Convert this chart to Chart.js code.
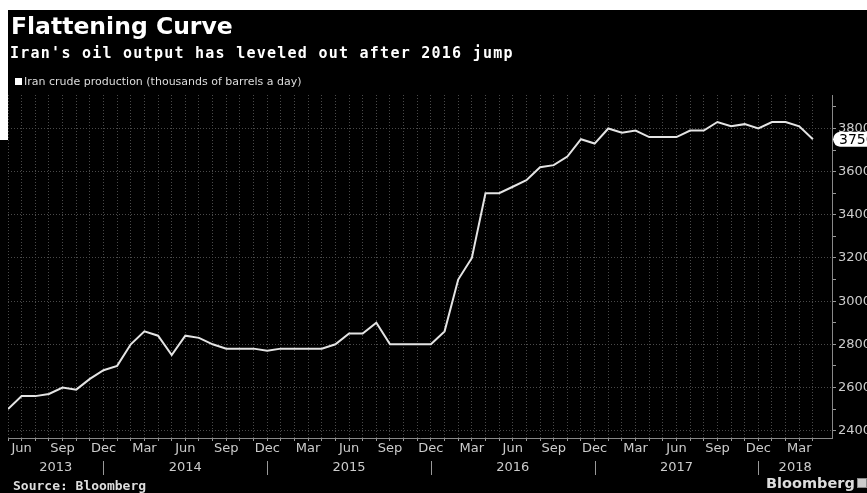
<!DOCTYPE html>
<html>
<head>
<meta charset="utf-8">
<script src="https://cdn.jsdelivr.net/npm/chart.js@4"></script>
<style>
    body { margin: 0; background: #000; width: 867px; height: 493px; overflow: hidden; position: relative; }
    .txt { position: absolute; color: #fff; white-space: nowrap; }
    #title { left: 11px; top: 12px; font: bold 23.5px "DejaVu Sans"; }
    #subtitle { left: 10px; top: 44px; font: bold 15px "DejaVu Sans Mono"; letter-spacing: 1.25px; }
    #legend { left: 15px; top: 75px; font: 11px "DejaVu Sans"; color: #ddd; }
    #legend span { display: inline-block; width: 7px; height: 7px; background: #fff; margin-right: 2px; }
    #source { left: 13px; top: 478px; font: bold 13px "DejaVu Sans Mono"; color: #ddd; }
    #logo { left: 766px; top: 475px; font: bold 14.5px "DejaVu Sans"; color: #ddd; }
    #icon { position: absolute; left: 857px; top: 478px; width: 8px; height: 8px; background: #ccc; border: 1px solid #888; }
    #wrap { position: absolute; left: 0; top: 0; width: 880px; height: 493px; }
    .edge { position: absolute; background: #fff; }
</style>
</head>
<body>
<div id="wrap"><canvas id="oilChart"></canvas></div>
<div class="edge" style="left:0;top:0;width:867px;height:10px"></div>
<div class="edge" style="left:0;top:0;width:8px;height:140px"></div>
<div class="txt" id="title">Flattening Curve</div>
<div class="txt" id="subtitle">Iran's oil output has leveled out after 2016 jump</div>
<div class="txt" id="legend"><span></span>Iran crude production (thousands of barrels a day)</div>
<div class="txt" id="source">Source: Bloomberg</div>
<div class="txt" id="logo">Bloomberg</div>
<div id="icon"></div>
<script>
const months = [
    "May 2013", "Jun 2013", "Jul 2013", "Aug 2013", "Sep 2013", "Oct 2013", "Nov 2013", "Dec 2013",
    "Jan 2014", "Feb 2014", "Mar 2014", "Apr 2014", "May 2014", "Jun 2014", "Jul 2014", "Aug 2014", "Sep 2014", "Oct 2014", "Nov 2014", "Dec 2014",
    "Jan 2015", "Feb 2015", "Mar 2015", "Apr 2015", "May 2015", "Jun 2015", "Jul 2015", "Aug 2015", "Sep 2015", "Oct 2015", "Nov 2015", "Dec 2015",
    "Jan 2016", "Feb 2016", "Mar 2016", "Apr 2016", "May 2016", "Jun 2016", "Jul 2016", "Aug 2016", "Sep 2016", "Oct 2016", "Nov 2016", "Dec 2016",
    "Jan 2017", "Feb 2017", "Mar 2017", "Apr 2017", "May 2017", "Jun 2017", "Jul 2017", "Aug 2017", "Sep 2017", "Oct 2017", "Nov 2017", "Dec 2017",
    "Jan 2018", "Feb 2018", "Mar 2018", "Apr 2018"
];
const production = [
    2500, 2560, 2560, 2570, 2600, 2590, 2640, 2680,
    2700, 2800, 2860, 2840, 2750, 2840, 2830, 2800, 2780, 2780, 2780, 2770,
    2780, 2780, 2780, 2780, 2800, 2850, 2850, 2900, 2800, 2800, 2800, 2800,
    2860, 3100, 3200, 3500, 3500, 3530, 3560, 3620, 3630, 3670, 3750, 3730,
    3800, 3780, 3790, 3760, 3760, 3760, 3790, 3790, 3830, 3810, 3820, 3800,
    3830, 3830, 3810, 3750
];
const shownMonths = ["Jun", "Sep", "Dec", "Mar"];
const years = ["2013", "2014", "2015", "2016", "2017", "2018"];
const yTicks = [2400, 2500, 2600, 2700, 2800, 2900, 3000, 3100, 3200, 3300, 3400, 3500, 3600, 3700, 3800, 3900];

const X_MAX = 60.4;
const Y_MIN = 2366;
const Y_MAX = 3955;

const yearBreaks = months.map((m, i) => m.startsWith("Dec") ? i : -1).filter(i => i >= 0);
const yearEdges = [0, ...yearBreaks, X_MAX];
const yearCenters = years.map((y, i) => (yearEdges[i] + yearEdges[i + 1]) / 2);

const axisFont = { family: "DejaVu Sans", size: 13 };

const extras = {
    id: "extras",
    afterDraw(chart) {
        const { ctx, chartArea } = chart;
        const x = chart.scales.x, x2 = chart.scales.x2, y = chart.scales.y;

        // year separators
        ctx.save();
        ctx.strokeStyle = "#999";
        ctx.lineWidth = 1;
        yearBreaks.forEach(b => {
            const px = Math.round(x.getPixelForValue(b)) + 0.5;
            ctx.beginPath();
            ctx.moveTo(px, x2.top + 3);
            ctx.lineTo(px, x2.bottom);
            ctx.stroke();
        });

        // last value tag
        const last = production[production.length - 1];
        const py = y.getPixelForValue(last);
        const lx = chartArea.right + 1;
        ctx.fillStyle = "#fff";
        ctx.beginPath();
        ctx.moveTo(lx, py);
        ctx.quadraticCurveTo(lx + 1, py - 7, lx + 7, py - 7.5);
        ctx.lineTo(lx + 45, py - 7.5);
        ctx.lineTo(lx + 45, py + 7.5);
        ctx.lineTo(lx + 7, py + 7.5);
        ctx.quadraticCurveTo(lx + 1, py + 7, lx, py);
        ctx.closePath();
        ctx.fill();
        ctx.fillStyle = "#000";
        ctx.font = "14px 'DejaVu Sans'";
        ctx.textBaseline = "middle";
        ctx.fillText(String(last), lx + 6, py + 1);
        ctx.restore();
    }
};

new Chart(document.getElementById("oilChart"), {
    type: "line",
    data: {
        datasets: [{
            label: "Iran crude production (thousands of barrels a day)",
            data: production.map((v, i) => ({ x: i, y: v })),
            borderColor: "#e4e4e4",
            borderWidth: 2,
            pointRadius: 0,
            tension: 0
        }]
    },
    options: {
        responsive: true,
        maintainAspectRatio: false,
        animation: false,
        layout: { padding: { top: 95, left: 8, right: 0, bottom: 18 } },
        plugins: { legend: { display: false }, tooltip: { enabled: false } },
        scales: {
            x: {
                type: "linear",
                position: "bottom",
                min: 0,
                max: X_MAX,
                afterBuildTicks: scale => {
                    scale.ticks = months.map((m, i) => ({ value: i }));
                },
                afterFit: scale => { scale.height = 20; },
                grid: { color: "#4a4a4a", tickColor: "#999", tickLength: 3 },
                border: { color: "#888", dash: [1, 2] },
                ticks: {
                    color: "#ccc",
                    font: axisFont,
                    padding: 0,
                    autoSkip: false,
                    maxRotation: 0,
                    callback: value => {
                        const m = months[value];
                        if (!m) return "";
                        const name = m.slice(0, 3);
                        return shownMonths.includes(name) ? name : "";
                    }
                }
            },
            x2: {
                type: "linear",
                position: "bottom",
                weight: 1,
                min: 0,
                max: X_MAX,
                afterBuildTicks: scale => {
                    scale.ticks = yearCenters.map(v => ({ value: v }));
                },
                afterFit: scale => { scale.height = 17; },
                grid: { display: false },
                border: { display: false },
                ticks: {
                    color: "#ccc",
                    font: axisFont,
                    padding: -6,
                    autoSkip: false,
                    maxRotation: 0,
                    callback: (value, index) => years[index]
                }
            },
            y: {
                position: "right",
                min: Y_MIN,
                max: Y_MAX,
                afterBuildTicks: scale => {
                    scale.ticks = yTicks.map(v => ({ value: v }));
                },
                afterFit: scale => { scale.width = 48; },
                grid: {
                    color: ctx => ctx.tick && ctx.tick.value % 200 === 0 ? "#4a4a4a" : "transparent",
                    tickColor: "#999",
                    tickLength: 4
                },
                border: { color: "#888", dash: [1, 2] },
                ticks: {
                    color: "#ccc",
                    font: axisFont,
                    padding: 2,
                    callback: value => value % 200 === 0 ? value : ""
                }
            }
        }
    },
    plugins: [extras]
});
</script>
</body>
</html>
